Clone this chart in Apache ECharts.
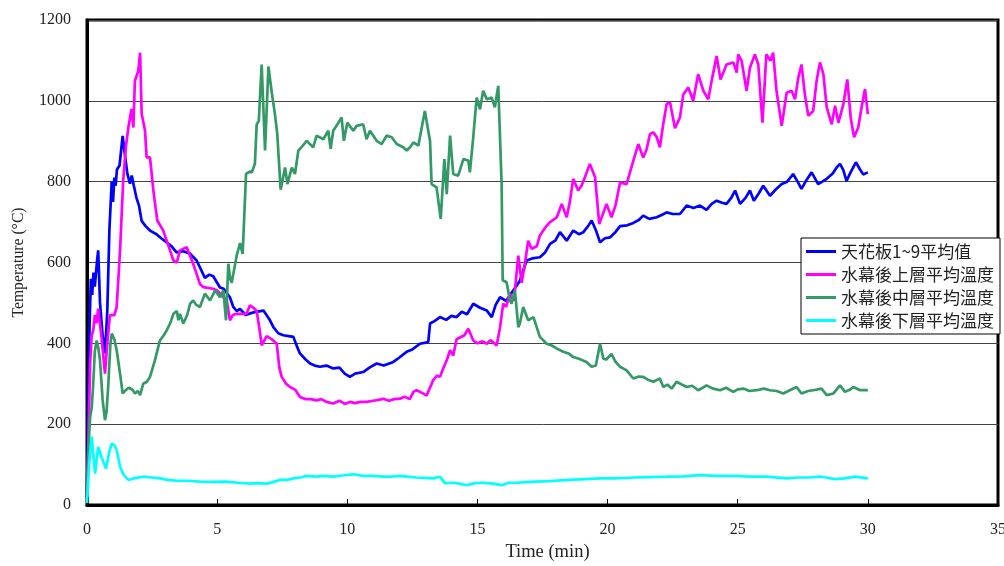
<!DOCTYPE html>
<html>
<head>
<meta charset="utf-8">
<script src="https://cdn.jsdelivr.net/npm/echarts@6/dist/echarts.min.js"></script>
<style>
html,body{margin:0;padding:0;background:#fff;overflow:hidden;}
#chart{width:1004px;height:566px;}
</style>
</head>
<body>
<div id="chart"></div>
<script>
// ---- Data (time in minutes, temperature in °C) ----
const seriesNames = ['天花板1~9平均值', '水幕後上層平均溫度', '水幕後中層平均溫度', '水幕後下層平均溫度'];
const xTicks = [0, 5, 10, 15, 20, 25, 30, 35];
const yTicks = [0, 200, 400, 600, 800, 1000, 1200];

const ceilingT = [0,0.05,0.1,0.15,0.2,0.25,0.3,0.38,0.43,0.5,0.6,0.69,0.78,0.86,0.95,1.0,1.05,1.1,1.15,1.25,1.37,1.45,1.55,1.65,1.72,1.8,1.9,2.0,2.1,2.25,2.42,2.67,2.85,3.06,3.25,3.44,3.7,3.96,4.21,4.34,4.53,4.7,4.85,5.0,5.11,5.25,5.49,5.62,5.75,5.88,6.1,6.26,6.5,6.78,7.03,7.16,7.35,7.54,7.75,7.93,8.05,8.18,8.4,8.57,8.75,8.95,9.2,9.46,9.7,9.9,10.1,10.3,10.61,10.85,11.13,11.4,11.77,12.0,12.28,12.5,12.79,13.11,13.18,13.35,13.56,13.8,14.0,14.2,14.4,14.6,14.84,15.1,15.36,15.55,15.7,15.87,16.1,16.38,16.63,16.89,17.1,17.4,17.6,17.79,18.0,18.17,18.43,18.68,18.9,19.07,19.25,19.39,19.55,19.71,19.9,20.09,20.3,20.48,20.75,20.99,21.2,21.37,21.6,21.89,22.1,22.27,22.5,22.78,23.04,23.3,23.55,23.8,24.0,24.19,24.4,24.57,24.75,24.9,25.09,25.3,25.47,25.62,25.8,25.98,26.24,26.45,26.69,26.9,27.13,27.3,27.45,27.65,27.84,28.09,28.25,28.42,28.65,28.8,28.93,29.05,29.18,29.35,29.54,29.7,29.82,30.0];
const ceilingV = [20,250,450,560,520,575,540,600,630,500,420,375,480,680,800,750,810,790,830,840,913,870,820,795,815,790,760,740,703,690,679,670,660,650,640,625,628,622,605,588,562,570,566,550,538,535,514,490,480,485,470,474,478,481,457,440,425,420,418,416,395,375,360,350,345,342,345,338,340,325,317,325,329,340,350,345,354,365,379,385,399,403,449,455,465,458,468,465,478,472,498,488,481,465,495,514,505,531,555,605,610,613,625,646,655,675,654,679,670,675,690,704,680,650,660,662,675,690,692,698,705,716,708,712,718,724,720,720,741,735,741,730,745,753,748,745,760,778,745,760,778,753,770,790,765,780,794,800,819,800,782,805,823,794,800,807,820,835,844,830,802,825,848,830,818,823];

const upperT = [0,0.05,0.12,0.18,0.24,0.3,0.37,0.43,0.55,0.69,0.78,0.88,0.95,1.05,1.14,1.27,1.39,1.5,1.59,1.71,1.78,1.84,1.97,2.04,2.1,2.23,2.29,2.42,2.55,2.7,2.93,3.19,3.32,3.45,3.57,3.83,4.08,4.21,4.34,4.47,4.85,5.0,5.24,5.37,5.49,5.6,5.75,5.88,6.13,6.26,6.4,6.52,6.65,6.71,6.9,7.1,7.29,7.39,7.48,7.65,7.8,8.0,8.18,8.4,8.6,8.82,9.0,9.2,9.46,9.7,9.9,10.1,10.3,10.5,10.75,11.0,11.2,11.38,11.6,11.8,12.02,12.2,12.4,12.54,12.66,12.85,13.05,13.3,13.45,13.56,13.7,13.82,13.95,14.07,14.2,14.35,14.5,14.65,14.84,15.0,15.2,15.36,15.5,15.74,15.87,15.99,16.1,16.25,16.4,16.57,16.7,16.83,16.95,17.08,17.28,17.4,17.53,17.66,17.79,18.05,18.24,18.43,18.55,18.68,18.87,19.0,19.13,19.32,19.52,19.68,19.82,19.96,20.15,20.3,20.48,20.73,20.99,21.18,21.37,21.5,21.63,21.76,21.89,22.01,22.14,22.27,22.4,22.59,22.78,22.91,23.1,23.29,23.48,23.68,23.87,24.0,24.19,24.34,24.57,24.83,24.96,25.02,25.15,25.34,25.47,25.66,25.79,25.95,26.1,26.26,26.36,26.49,26.69,26.88,27.07,27.2,27.33,27.45,27.58,27.71,27.9,28.03,28.16,28.29,28.42,28.61,28.74,28.87,29.06,29.21,29.34,29.47,29.63,29.76,29.89,30.0];
const upperV = [20,150,350,420,432,470,450,486,420,325,400,470,474,470,490,630,802,890,934,980,934,1049,1074,1119,968,926,860,860,778,704,679,630,605,600,630,638,597,572,547,539,535,531,514,506,457,470,473,473,473,494,488,480,425,395,418,410,399,340,317,300,292,285,267,262,262,259,262,255,251,258,250,255,252,255,255,258,260,263,258,262,263,268,262,280,284,278,271,309,320,317,340,358,383,370,410,415,420,436,407,400,405,399,408,395,440,498,490,523,505,617,550,600,654,634,640,667,679,691,700,712,745,712,750,807,778,790,811,844,811,695,720,745,712,740,798,794,852,893,860,880,918,922,910,885,943,992,996,932,959,1016,1033,1000,1066,1025,1004,1050,1111,1053,1090,1095,1070,1115,1099,1025,1082,1115,1090,946,1115,1099,1119,1025,938,1020,1025,1004,1058,1090,1016,963,975,1049,1095,1066,984,942,988,946,992,1053,959,910,934,984,1029,967];

const middleT = [0,0.06,0.12,0.18,0.24,0.3,0.37,0.43,0.5,0.6,0.69,0.75,0.82,0.9,0.95,1.05,1.14,1.27,1.37,1.45,1.52,1.6,1.65,1.75,1.84,1.95,2.04,2.16,2.3,2.42,2.61,2.8,2.95,3.06,3.2,3.32,3.45,3.51,3.57,3.7,3.85,3.96,4.08,4.2,4.34,4.53,4.73,4.92,5.11,5.24,5.34,5.43,5.5,5.56,5.75,5.88,5.98,6.11,6.25,6.33,6.45,6.52,6.6,6.71,6.79,6.84,6.97,7.1,7.22,7.31,7.44,7.61,7.7,7.87,7.99,8.12,8.3,8.44,8.69,8.82,9.08,9.27,9.36,9.46,9.66,9.78,9.87,10.0,10.23,10.36,10.61,10.74,10.87,11.13,11.32,11.51,11.71,11.9,12.15,12.28,12.41,12.54,12.73,12.86,12.98,13.05,13.18,13.24,13.43,13.59,13.73,13.82,13.95,14.07,14.26,14.46,14.65,14.71,14.84,14.97,15.1,15.22,15.36,15.55,15.67,15.8,15.87,15.93,15.97,16.12,16.25,16.31,16.44,16.57,16.63,16.76,16.95,17.15,17.4,17.66,17.85,18.05,18.3,18.5,18.68,18.9,19.19,19.39,19.55,19.71,19.84,19.95,20.15,20.3,20.48,20.73,20.99,21.2,21.37,21.55,21.76,22.01,22.14,22.3,22.46,22.65,22.85,23.04,23.25,23.48,23.65,23.8,24.05,24.32,24.55,24.83,25.0,25.22,25.45,25.73,26.0,26.24,26.5,26.75,27.0,27.26,27.45,27.7,27.9,28.22,28.42,28.68,28.93,29.12,29.3,29.44,29.7,30.0];
const middleV = [20,150,218,240,300,380,407,390,358,260,210,230,300,400,424,410,383,325,276,282,280,290,292,285,276,282,272,300,305,317,358,407,420,432,450,473,480,457,473,449,470,498,506,495,490,523,506,531,514,531,457,597,560,550,617,648,621,819,825,823,844,942,950,1090,960,877,1085,1020,967,918,780,835,794,835,819,877,890,901,885,914,905,926,881,926,946,959,901,946,926,938,942,905,926,901,893,914,910,893,885,877,885,897,889,934,975,979,900,794,786,708,856,769,914,819,815,856,852,823,910,1008,979,1025,1004,1008,984,1037,1033,794,556,551,506,498,531,440,449,490,457,465,416,399,395,387,379,375,366,362,354,342,345,399,362,360,374,355,342,333,313,318,317,310,305,313,292,298,288,305,298,292,295,284,290,296,288,284,290,280,286,288,282,284,288,284,282,276,284,292,276,282,284,288,272,276,296,280,285,292,284,284];

const lowerT = [0,0.08,0.18,0.31,0.43,0.55,0.73,0.85,0.95,1.05,1.14,1.27,1.4,1.59,1.8,2.16,2.5,2.8,3.1,3.44,3.8,4.34,4.8,5.36,5.8,6.26,6.6,6.9,7.1,7.41,7.67,7.93,8.2,8.44,8.8,9.1,9.46,9.8,10.23,10.6,11.0,11.38,11.7,12.02,12.3,12.66,13.0,13.3,13.56,13.75,14.07,14.3,14.59,14.9,15.23,15.6,15.93,16.2,16.51,17.0,17.79,18.5,19.1,19.71,20.3,21.0,21.6,22.27,22.9,23.55,24.2,24.83,25.47,26.1,26.88,27.3,27.71,28.22,28.74,29.1,29.5,30.0];
const lowerV = [5,100,169,78,144,120,90,130,152,148,136,95,75,62,66,70,68,66,62,60,60,58,57,58,55,53,54,53,56,62,62,66,68,72,70,72,70,73,76,72,72,70,70,72,70,68,67,66,70,54,55,53,49,54,55,53,49,55,55,57,59,62,64,66,66,68,69,70,71,74,72,72,70,70,66,68,68,70,64,66,70,66];

const seriesColors = ['#0000FF', '#FF00FF', '#339966', '#00FFFF'];

function pairs(t, v) { return t.map((x, i) => [x, v[i]]); }
const seriesData = [pairs(ceilingT, ceilingV), pairs(upperT, upperV), pairs(middleT, middleV), pairs(lowerT, lowerV)];

const chart = echarts.init(document.getElementById('chart'), null, { renderer: 'canvas' });
const serif = '"Liberation Serif", "Times New Roman", serif';

chart.setOption({
  animation: false,
  backgroundColor: '#fff',
  grid: { left: 87, right: 6, top: 20, bottom: 61, show: true, borderColor: '#000', borderWidth: 3,
    backgroundColor: 'transparent', containLabel: false, outerBoundsMode: 'none' },
  legend: {
    data: seriesNames.map(n => ({ name: n, icon: 'rect' })),
    orient: 'vertical',
    left: 801, top: 238,
    padding: [5, 6, 5, 5],
    itemWidth: 30, itemHeight: 3, itemGap: 6,
    backgroundColor: '#fff',
    borderColor: '#000', borderWidth: 1, borderRadius: 0,
    textStyle: { fontFamily: '"Noto Sans CJK TC", sans-serif', fontSize: 17, lineHeight: 17, color: '#222' }
  },
  xAxis: {
    type: 'value', min: 0, max: 35, interval: 5,
    name: 'Time (min)', nameLocation: 'middle', nameGap: 38,
    nameTextStyle: { fontFamily: serif, fontSize: 18.5, color: '#222', padding: [0, 0, 0, 10] },
    axisLine: { show: true, lineStyle: { color: '#000', width: 3 } },
    axisTick: { show: true, inside: true, length: 6, lineStyle: { color: '#000', width: 1 } },
    axisLabel: { fontFamily: serif, fontSize: 16, color: '#222', margin: 17,
      formatter: function (v) { return xTicks.indexOf(v) >= 0 ? String(v) : ''; } },
    splitLine: { show: false }
  },
  yAxis: {
    type: 'value', min: 0, max: 1200, interval: 200,
    name: 'Temperature (°C)', nameLocation: 'middle', nameGap: 60,
    nameTextStyle: { fontFamily: serif, fontSize: 15.7, color: '#222' },
    axisLine: { show: true, lineStyle: { color: '#000', width: 3 } },
    axisTick: { show: false },
    axisLabel: { fontFamily: serif, fontSize: 16, color: '#222', margin: 16,
      formatter: function (v) { return yTicks.indexOf(v) >= 0 ? String(v) : ''; } },
    splitLine: { show: true, lineStyle: { color: '#444', width: 1 } }
  },
  series: seriesNames.map((n, i) => ({
    name: n, type: 'line', data: seriesData[i],
    showSymbol: false, symbol: 'none',
    lineStyle: { color: seriesColors[i], width: 2.7 },
    itemStyle: { color: seriesColors[i] }
  }))
});
</script>
</body>
</html>
